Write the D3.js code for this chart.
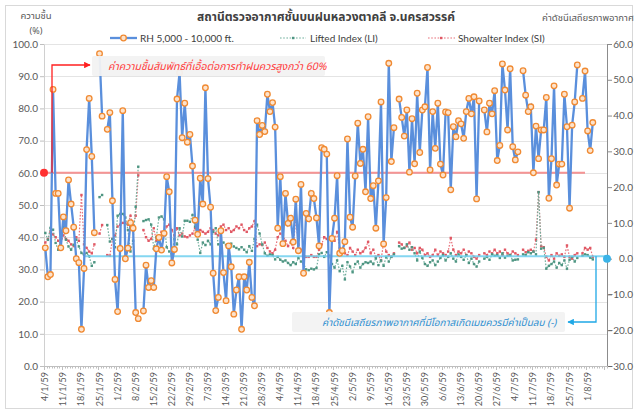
<!DOCTYPE html>
<html><head><meta charset="utf-8">
<script src="https://cdn.jsdelivr.net/npm/d3@7"></script>
<style>
html,body{margin:0;padding:0;background:#fff;}
svg{display:block;font-family:"Noto Sans Thai","Noto Sans","Lato","DejaVu Sans",sans-serif;}
</style></head>
<body><svg id="c" width="638" height="412"></svg>
<script>
// ---------- DATA ----------
const startDate = "2016-01-04";   // 4/1/59 (B.E.)
const dayCount = 218;
const tickLabels = ["4/1/59","11/1/59","18/1/59","25/1/59","1/2/59","8/2/59","15/2/59","22/2/59","29/2/59","7/3/59","14/3/59","21/3/59","28/3/59","4/4/59","11/4/59","18/4/59","25/4/59","2/5/59","9/5/59","16/5/59","23/5/59","30/5/59","6/6/59","13/6/59","20/6/59","27/6/59","4/7/59","11/7/59","18/7/59","25/7/59","1/8/59"];
const leftTicks = [0,10,20,30,40,50,60,70,80,90,100];
const rightTicks = [-30,-20,-10,0,10,20,30,40,50,60];

const rh = [36.7,27.7,28.4,85.9,53.6,53.6,36.7,46.3,42,57.8,50.3,43.1,33.3,32.1,11.4,30.3,67.2,83.1,65.1,41.4,
null,97,77.6,null,73.5,78.7,51.3,26.9,16.9,36.5,79.3,33.3,36.6,44.5,42.8,16.6,14.7,null,17.1,31.3,
24.4,26.5,24.4,36.4,39.9,36,41.2,58.8,54.1,32,36.2,82.9,91.1,70.9,81.6,69.5,71.9,62.1,45.3,40.9,
58.3,50.3,86.4,58.2,49.3,28.8,17.2,21.3,42,29,20.3,37.3,30.8,16.1,23.6,27.7,11.4,27.7,23.6,32.2,
21.3,18.7,76.2,71.9,74.7,72.8,84.4,79,81.8,74.2,42.8,58.8,38,53.6,44.3,45.9,38.5,51.8,35.8,56.4,
28.8,47.4,45.7,53.6,52,46,37.3,67.8,67.3,65.8,16.6,39.6,45.9,59.1,35,35.8,38.6,70.5,46.2,43.1,
59,75.4,62.9,67.3,54.1,77.4,52,56,42.8,57.5,82,37.9,52.3,94,63.5,74,null,82.9,77.2,71.4,
79.5,60.2,76.8,62.8,84.7,66.3,79.5,80.5,92.7,60.9,79,67.6,81.6,62.7,59.3,78.9,78.7,54.7,74.3,71.2,
76.2,75.2,70.7,79,83.1,78.3,83.6,51.9,82.3,null,79.5,72.7,81.6,78.3,85.5,63.8,68.5,93.8,85.7,73.3,
92.3,68.1,64,66.5,null,91.7,84.1,79,80.5,60,74.5,64.4,73.3,73.3,83.4,52.1,64.4,87,56.2,62.7,
62.7,84.4,74.3,49,74.8,82,93.5,null,83.1,91.6,73,66.9,75.6,null,null,null,null,null];

const li = [7.2,5.3,8.6,8.1,4.4,2.5,5.3,9.0,5.3,3.4,2.5,3.9,5.3,3.4,1.6,1.1,1.6,0.7,-2.0,-1.0,
null,17.2,17.8,null,9.4,4.8,5.5,3.2,12.0,12.5,12.5,11.5,8.0,2.0,5.0,14.5,25.7,null,10.5,10.8,
11.0,9.5,2.8,6.0,11.5,11.8,11.0,3.2,2.0,1.0,5.5,4.0,8.5,6.2,10.6,10.6,10.3,12.2,9.0,5.3,
1.6,4.5,3.8,5.0,4.0,7.5,8.5,4.0,3.2,4.5,3.8,3.0,4.2,3.4,3.0,2.6,3.2,2.5,1.8,3.5,
2.2,5.5,9.5,7.0,4.0,1.5,0.8,1.2,1.0,-0.2,0.5,-0.3,-0.8,-0.5,-1.2,-1.8,-1.0,-1.5,0.2,-0.8,
-1.3,-3.0,-3.2,-2.8,-3.0,-2.6,1.2,1.6,0.5,1.8,0.8,-1.5,-2.5,-0.5,-3.5,-2.0,-5.8,-1.0,-2.2,-3.8,
-1.5,-0.8,-2.5,-1.5,-1.0,-1.2,-0.8,-1.5,0.2,-1.8,-0.5,-2.0,0.5,-0.8,0.5,1.2,null,3.5,2.8,3.0,
4.0,2.5,3.2,1.5,-0.5,2.0,0.2,-1.5,-2.0,-1.0,-0.5,-1.8,-0.8,0.2,1.0,-0.5,0.5,1.5,0.0,-0.8,
1.2,0.5,-0.3,1.0,-1.2,0.0,-1.5,-2.2,-0.8,null,0.0,0.5,-0.3,1.2,0.8,1.0,0.2,1.5,0.3,0.8,
1.0,-0.5,-0.3,-0.2,null,1.2,1.0,1.8,1.5,2.0,1.2,18.6,2.8,3.0,-2.8,-2.0,-1.5,-0.8,-2.5,-1.2,
-1.8,-0.5,-2.8,-0.3,0.5,-0.8,0.2,null,0.8,1.2,1.0,0.3,-0.2,null,null,null,null,null];

const si = [4.5,5.5,7.5,6.8,6.0,5.0,4.2,6.5,5.5,5.0,4.0,3.5,6.0,5.0,17.8,4.0,3.0,2.0,1.5,4.0,
null,7.0,9.4,null,1.0,0.8,5.5,6.5,9.0,9.5,10.0,10.0,9.5,12.0,9.0,12.0,23.3,null,8.0,6.0,
5.0,5.5,8.5,5.0,6.0,7.5,7.0,9.0,9.5,8.0,6.5,8.5,6.5,7.0,6.2,6.0,6.5,7.0,8.5,8.0,
8.0,7.5,7.0,7.5,8.5,8.0,7.0,6.5,9.0,9.5,8.0,8.5,7.5,8.0,9.0,8.5,9.5,8.0,7.5,8.5,
9.0,10.5,3.5,4.0,3.8,4.5,3.0,2.0,1.5,2.5,6.0,7.0,6.5,5.0,3.5,4.5,3.0,11.4,4.0,2.5,
1.5,0.5,0.5,1.0,0.5,0.5,2.5,4.0,6.0,5.5,6.0,5.0,5.0,7.5,3.0,2.0,1.5,1.0,3.0,2.0,
1.0,2.5,1.5,2.0,3.0,4.7,1.5,2.5,0.5,1.0,-0.5,4.5,2.0,1.0,0.5,1.5,null,4.5,4.0,3.0,
3.5,4.5,2.5,3.0,1.5,3.0,2.5,1.0,1.5,0.5,1.0,2.5,1.0,2.0,1.5,1.0,2.0,5.8,2.5,1.0,
2.0,1.5,2.5,1.0,2.0,1.5,0.5,0.0,1.0,null,1.5,1.0,2.0,1.5,2.5,1.5,2.0,1.0,2.5,1.5,
1.0,2.0,1.5,1.0,null,2.5,1.8,2.2,2.5,2.0,5.3,18.6,3.5,3.2,0.5,-0.5,1.0,0.0,1.5,0.8,
1.2,0.5,3.7,0.5,0.0,1.0,1.5,null,1.5,3.0,2.5,3.0,0.5,null,null,null,null,null];

const seriesNames = ["RH 5,000 - 10,000 ft.","Lifted Index (LI)","Showalter Index (SI)"];
const titleText = "สถานีตรวจอากาศชั้นบนฝนหลวงตาคลี จ.นครสวรรค์";
const leftTitle = ["ความชื้น","(%)"];
const rightTitle = "ค่าดัชนีเสถียรภาพอากาศ";
const rhThreshold = 60;
const noteRH = "ค่าความชื้นสัมพัทธ์ที่เอื้อต่อการทำฝนควรสูงกว่า 60%";
const noteIdx = "ค่าดัชนีเสถียรภาพอากาศที่มีโอกาสเกิดเมฆควรมีค่าเป็นลบ (-)";

// ---------- CHART ----------
const svg = d3.select("#c");
const L = 44, R = 607, T = 44, B = 366;
const days = d3.range(dayCount);
const x = d3.scaleBand().domain(days).range([L, R]).padding(0);
const xc = i => x(i) + x.bandwidth()/2;
const yL = d3.scaleLinear().domain([0,100]).range([B,T]);
const yR = d3.scaleLinear().domain([-30,60]).range([B,T]);

svg.append("rect").attr("x",5.5).attr("y",5.5).attr("width",627).attr("height",403)
  .attr("fill","#fff").attr("stroke","#d9d9d9");

// gridlines
svg.append("g").selectAll("line").data(leftTicks.filter(d=>d>0)).join("line")
  .attr("x1",L).attr("x2",R).attr("y1",d=>Math.round(yL(d))+0.5).attr("y2",d=>Math.round(yL(d))+0.5)
  .attr("stroke","#e4e4e4");

// axes
const gl = svg.append("g").attr("transform",`translate(${L},0)`)
  .call(d3.axisLeft(yL).tickValues(leftTicks).tickFormat(d3.format(".1f")).tickSize(4).tickSizeOuter(0));
const gr = svg.append("g").attr("transform",`translate(${R},0)`)
  .call(d3.axisRight(yR).tickValues(rightTicks).tickFormat(d3.format(".1f")).tickSize(5).tickSizeOuter(0));
[gl,gr].forEach(g=>{
  g.selectAll("text").attr("fill","#595959").style("font-size","10px").style("font-family","Lato, 'Open Sans', sans-serif");
});
gl.select(".domain").attr("stroke","#d0d0d0");
gl.selectAll(".tick line").attr("stroke","#bfbfbf");
gr.select(".domain").attr("stroke","#8c8c8c");
gr.selectAll(".tick line").attr("stroke","#8c8c8c");
gr.selectAll("text").attr("x",26).attr("text-anchor","end");
gl.selectAll("text").attr("x",-6);

// bottom axis
const gb = svg.append("g");
gb.append("line").attr("x1",L).attr("x2",R).attr("y1",B+0.5).attr("y2",B+0.5).attr("stroke","#bfbfbf");
gb.selectAll("line.t").data(d3.range(dayCount+1)).join("line").attr("class","t")
  .attr("x1",i=>Math.round(L + i*x.bandwidth())+0.5).attr("x2",i=>Math.round(L + i*x.bandwidth())+0.5)
  .attr("y1",B).attr("y2",i=>B + (i%7===0?4:2.5)).attr("stroke","#bfbfbf");
gb.selectAll("text").data(tickLabels).join("text")
  .attr("transform",(d,k)=>`translate(${xc(k*7)+3},${B+6}) rotate(-90)`)
  .attr("text-anchor","end").attr("fill","#595959")
  .style("font-size","9px").style("font-family","Lato, 'Open Sans', sans-serif")
  .text(d=>d);

// lines
const mk = (arr, ys) => d3.line().defined(d=>d[1]!=null).x(d=>xc(d[0])).y(d=>ys(d[1]))(arr.map((v,i)=>[i,v]));
const pts = arr => arr.map((v,i)=>[i,v]).filter(d=>d[1]!=null);

svg.append("path").attr("d",mk(si,yR)).attr("fill","none").attr("stroke","#e8707a").attr("stroke-width",1.2).attr("stroke-dasharray","1.6,1.6");
svg.append("g").selectAll("rect").data(pts(si)).join("rect")
  .attr("x",d=>xc(d[0])-1.2).attr("y",d=>yR(d[1])-1.2).attr("width",2.4).attr("height",2.4).attr("fill","#e05864");
svg.append("path").attr("d",mk(li,yR)).attr("fill","none").attr("stroke","#6fae9c").attr("stroke-width",1.2).attr("stroke-dasharray","1.6,1.6");
svg.append("g").selectAll("rect").data(pts(li)).join("rect")
  .attr("x",d=>xc(d[0])-1.2).attr("y",d=>yR(d[1])-1.2).attr("width",2.4).attr("height",2.4).attr("fill","#4e9582");

// annotations: threshold lines
svg.append("line").attr("x1",L).attr("x2",585).attr("y1",yL(rhThreshold)).attr("y2",yL(rhThreshold))
  .attr("stroke","#f47a7a").attr("stroke-width",2).attr("opacity",0.8);
svg.append("line").attr("x1",85).attr("x2",R).attr("y1",yR(0.7)).attr("y2",yR(0.7))
  .attr("stroke","#6fd0ef").attr("stroke-width",2).attr("opacity",0.85);

// RH line
svg.append("path").attr("d",mk(rh,yL)).attr("fill","none").attr("stroke","#5a8fdc").attr("stroke-width",2.3);
svg.append("g").selectAll("circle").data(pts(rh)).join("circle")
  .attr("cx",d=>xc(d[0])).attr("cy",d=>yL(d[1])).attr("r",2.8)
  .attr("fill","#fde3cc").attr("stroke","#f08a32").attr("stroke-width",1.3);

// arrows
const defs = svg.append("defs");
defs.append("marker").attr("id","ar").attr("viewBox","0 0 10 10").attr("refX",9).attr("refY",5)
  .attr("markerWidth",5).attr("markerHeight",5).attr("orient","auto")
  .append("path").attr("d","M0,0L10,5L0,10z").attr("fill","#ff2020");
defs.append("marker").attr("id","ab").attr("viewBox","0 0 10 10").attr("refX",9).attr("refY",5)
  .attr("markerWidth",5).attr("markerHeight",5).attr("orient","auto")
  .append("path").attr("d","M0,0L10,5L0,10z").attr("fill","#1fa8e6");

svg.append("path").attr("d",`M52,${yL(rhThreshold)}V65H90`).attr("fill","none").attr("stroke","#ff2020").attr("stroke-width",1.3).attr("marker-end","url(#ar)");
svg.append("circle").attr("cx",L).attr("cy",yL(rhThreshold)).attr("r",4).attr("fill","#ff3030");
svg.append("path").attr("d",`M596,${yR(0.7)}V322H568`).attr("fill","none").attr("stroke","#1fa8e6").attr("stroke-width",1.3).attr("marker-end","url(#ab)");
svg.append("circle").attr("cx",R).attr("cy",yR(0)).attr("r",4).attr("fill","#3bb4e8");

// note boxes
svg.append("rect").attr("x",92).attr("y",56).attr("width",233).attr("height",20).attr("rx",2).attr("fill","#f2f2f2").attr("opacity",0.95);
svg.append("text").attr("x",108).attr("y",70).attr("fill","#ff3b3b").style("font-size","10.5px").style("font-style","italic").text(noteRH);
svg.append("rect").attr("x",292).attr("y",312).attr("width",273).attr("height",20).attr("rx",2).attr("fill","#f2f2f2").attr("opacity",0.95);
svg.append("text").attr("x",322).attr("y",326).attr("fill","#2f8fd0").style("font-size","10px").style("font-style","italic").text(noteIdx);

// titles
svg.append("text").attr("x",326).attr("y",21).attr("text-anchor","middle").attr("fill","#404040")
  .style("font-size","12px").style("font-weight","bold").text(titleText);
svg.append("text").attr("x",36).attr("y",19).attr("text-anchor","middle").attr("fill","#595959").style("font-size","9.5px").text(leftTitle[0]);
svg.append("text").attr("x",36).attr("y",34).attr("text-anchor","middle").attr("fill","#595959").style("font-size","9px").text(leftTitle[1]);
svg.append("text").attr("x",588).attr("y",21).attr("text-anchor","middle").attr("fill","#595959").style("font-size","9.5px").text(rightTitle);

// legend
const lg = svg.append("g");
const legX = [110, 280, 428];
lg.append("line").attr("x1",legX[0]).attr("x2",legX[0]+27).attr("y1",38).attr("y2",38).attr("stroke","#5a8fdc").attr("stroke-width",2.3);
lg.append("circle").attr("cx",legX[0]+13.5).attr("cy",38).attr("r",2.8).attr("fill","#fde3cc").attr("stroke","#f08a32").attr("stroke-width",1.3);
lg.append("line").attr("x1",legX[1]).attr("x2",legX[1]+26).attr("y1",38).attr("y2",38).attr("stroke","#6fae9c").attr("stroke-width",1.2).attr("stroke-dasharray","1.6,1.6");
lg.append("rect").attr("x",legX[1]+12).attr("y",36.8).attr("width",2.4).attr("height",2.4).attr("fill","#4e9582");
lg.append("line").attr("x1",legX[2]).attr("x2",legX[2]+27).attr("y1",38).attr("y2",38).attr("stroke","#e8707a").attr("stroke-width",1.2).attr("stroke-dasharray","1.6,1.6");
lg.append("rect").attr("x",legX[2]+12).attr("y",36.8).attr("width",2.4).attr("height",2.4).attr("fill","#e05864");
lg.selectAll("text").data(seriesNames).join("text")
  .attr("x",(d,i)=>legX[i]+30).attr("y",41.5).attr("fill","#404040")
  .style("font-size","10px").style("font-family","Lato, 'Open Sans', sans-serif").text(d=>d);
</script></body></html>
